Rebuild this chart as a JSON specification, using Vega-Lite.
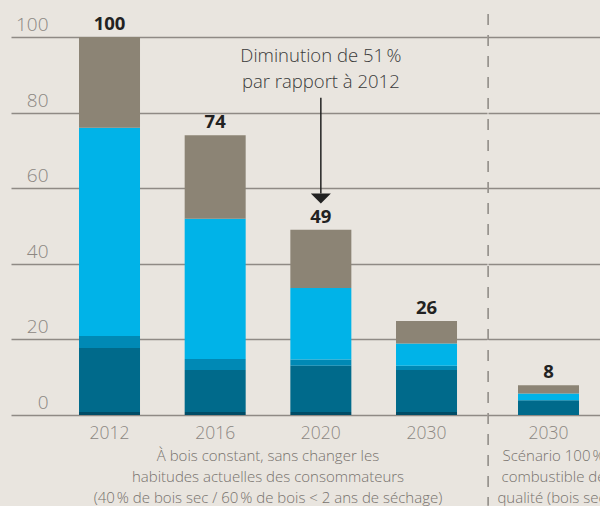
{
  "$schema": "https://vega.github.io/schema/vega-lite/v6.json",
  "background": "#e9e5df",
  "padding": {"left": 11, "top": 13, "right": 0, "bottom": 0},
  "spacing": 0,
  "datasets": {
    "emissions": [
      {"groupe": "A", "annee": "2012", "segment": "segment 1", "rang": 1, "valeur": 0.8, "total": 100},
      {"groupe": "A", "annee": "2012", "segment": "segment 2", "rang": 2, "valeur": 16.9, "total": 100},
      {"groupe": "A", "annee": "2012", "segment": "segment 3", "rang": 3, "valeur": 3.2, "total": 100},
      {"groupe": "A", "annee": "2012", "segment": "segment 4", "rang": 4, "valeur": 55.1, "total": 100},
      {"groupe": "A", "annee": "2012", "segment": "segment 5", "rang": 5, "valeur": 24.0, "total": 100},
      {"groupe": "A", "annee": "2016", "segment": "segment 1", "rang": 1, "valeur": 0.8, "total": 74},
      {"groupe": "A", "annee": "2016", "segment": "segment 2", "rang": 2, "valeur": 11.1, "total": 74},
      {"groupe": "A", "annee": "2016", "segment": "segment 3", "rang": 3, "valeur": 2.9, "total": 74},
      {"groupe": "A", "annee": "2016", "segment": "segment 4", "rang": 4, "valeur": 37.1, "total": 74},
      {"groupe": "A", "annee": "2016", "segment": "segment 5", "rang": 5, "valeur": 22.1, "total": 74},
      {"groupe": "A", "annee": "2020", "segment": "segment 1", "rang": 1, "valeur": 0.8, "total": 49},
      {"groupe": "A", "annee": "2020", "segment": "segment 2", "rang": 2, "valeur": 12.2, "total": 49},
      {"groupe": "A", "annee": "2020", "segment": "segment 3", "rang": 3, "valeur": 1.7, "total": 49},
      {"groupe": "A", "annee": "2020", "segment": "segment 4", "rang": 4, "valeur": 18.9, "total": 49},
      {"groupe": "A", "annee": "2020", "segment": "segment 5", "rang": 5, "valeur": 15.4, "total": 49},
      {"groupe": "A", "annee": "2030", "segment": "segment 1", "rang": 1, "valeur": 0.8, "total": 26},
      {"groupe": "A", "annee": "2030", "segment": "segment 2", "rang": 2, "valeur": 11.1, "total": 26},
      {"groupe": "A", "annee": "2030", "segment": "segment 3", "rang": 3, "valeur": 1.1, "total": 26},
      {"groupe": "A", "annee": "2030", "segment": "segment 4", "rang": 4, "valeur": 5.9, "total": 26},
      {"groupe": "A", "annee": "2030", "segment": "segment 5", "rang": 5, "valeur": 6.0, "total": 26},
      {"groupe": "B", "annee": "2030", "segment": "segment 2", "rang": 2, "valeur": 3.9, "total": 8},
      {"groupe": "B", "annee": "2030", "segment": "segment 4", "rang": 4, "valeur": 1.8, "total": 8},
      {"groupe": "B", "annee": "2030", "segment": "segment 5", "rang": 5, "valeur": 2.2, "total": 8}
    ]
  },
  "hconcat": [
    {
      "width": 476,
      "height": 378,
      "data": {"name": "emissions"},
      "transform": [{"filter": "datum.groupe === 'A'"}],
      "encoding": {
        "x": {
          "field": "annee",
          "type": "nominal",
          "sort": ["2012", "2016", "2020", "2030"],
          "scale": {"paddingInner": 0.4227, "paddingOuter": 0.4637, "align": 0.694},
          "axis": {
            "title": ["À bois constant, sans changer les", "habitudes actuelles des consommateurs", "(40\u202f% de bois sec / 60\u202f% de bois < 2 ans de séchage)"],
            "titleX": 256.5
          }
        }
      },
      "layer": [
        {
          "mark": {"type": "bar"},
          "encoding": {
            "y": {
              "field": "valeur",
              "type": "quantitative",
              "stack": "zero",
              "scale": {"domain": [0, 100], "nice": false},
              "axis": {
                "title": null,
                "values": [0, 20, 40, 60, 80, 100],
                "grid": true,
                "labels": true,
                "labelAlign": "right",
                "labelBaseline": "alphabetic",
                "labelPadding": -37,
                "labelOffset": -6.5,
                "labelFontSize": 19,
                "labelColor": "#8c8782",
                "labelFontWeight": 300,
                "labelFlush": false,
                "labelOverlap": false
              }
            },
            "color": {
              "field": "segment",
              "type": "nominal",
              "scale": {
                "domain": ["segment 1", "segment 2", "segment 3", "segment 4", "segment 5"],
                "range": ["#004c66", "#006a8b", "#0089b5", "#00b3e8", "#8c8475"]
              },
              "legend": null
            },
            "order": {"field": "rang", "type": "quantitative"}
          }
        },
        {
          "transform": [
            {"aggregate": [{"op": "sum", "field": "valeur", "as": "haut"}, {"op": "max", "field": "total", "as": "total"}], "groupby": ["annee"]}
          ],
          "mark": {"type": "text", "baseline": "alphabetic", "dy": -7, "fontSize": 18.5, "fontWeight": "bold", "color": "#222222"},
          "encoding": {
            "y": {"field": "haut", "type": "quantitative"},
            "text": {"field": "total", "type": "quantitative"}
          }
        },
        {
          "data": {"values": [{"annee": "2020", "texte": "Diminution de 51\u202f%\npar rapport à 2012"}]},
          "mark": {"type": "text", "baseline": "alphabetic", "lineBreak": "\n", "lineHeight": 26.6, "fontSize": 18.5, "fontWeight": 300, "color": "#3a3a3a"},
          "encoding": {
            "y": {"datum": 93.5, "type": "quantitative"},
            "text": {"field": "texte"}
          }
        },
        {
          "data": {"values": [{"annee": "2020"}]},
          "mark": {"type": "rule", "color": "#222222", "strokeWidth": 1.5},
          "encoding": {
            "y": {"datum": 83.9, "type": "quantitative"},
            "y2": {"datum": 58.6}
          }
        },
        {
          "data": {"values": [{"annee": "2020"}]},
          "mark": {"type": "point", "shape": "M-1,-0.5L1,-0.5L0,0.5Z", "filled": true, "size": 400, "color": "#222222", "opacity": 1},
          "encoding": {
            "y": {"datum": 57.3, "type": "quantitative"}
          }
        }
      ]
    },
    {
      "width": 113,
      "height": 378,
      "data": {"name": "emissions"},
      "transform": [{"filter": "datum.groupe === 'B'"}],
      "encoding": {
        "x": {
          "field": "annee",
          "type": "nominal",
          "scale": {"paddingInner": 0, "paddingOuter": 0.4262, "align": 0.577},
          "axis": {
            "title": ["Scénario 100\u202f%", "combustible de", "qualité (bois sec)"],
            "titleX": 65
          }
        }
      },
      "layer": [
        {
          "mark": {"type": "bar"},
          "encoding": {
            "y": {
              "field": "valeur",
              "type": "quantitative",
              "stack": "zero",
              "scale": {"domain": [0, 100], "nice": false},
              "axis": {"title": null, "values": [0, 20, 40, 60, 80, 100], "grid": true, "labels": false}
            },
            "color": {
              "field": "segment",
              "type": "nominal",
              "scale": {
                "domain": ["segment 1", "segment 2", "segment 3", "segment 4", "segment 5"],
                "range": ["#004c66", "#006a8b", "#0089b5", "#00b3e8", "#8c8475"]
              },
              "legend": null
            },
            "order": {"field": "rang", "type": "quantitative"}
          }
        },
        {
          "transform": [
            {"aggregate": [{"op": "sum", "field": "valeur", "as": "haut"}, {"op": "max", "field": "total", "as": "total"}], "groupby": ["annee"]}
          ],
          "mark": {"type": "text", "baseline": "alphabetic", "dy": -7, "fontSize": 18.5, "fontWeight": "bold", "color": "#222222"},
          "encoding": {
            "y": {"field": "haut", "type": "quantitative"},
            "text": {"field": "total", "type": "quantitative"}
          }
        },
        {
          "data": {"values": [{"annee": "2030"}]},
          "mark": {"type": "rule", "color": "#8c8782", "strokeWidth": 1.5, "strokeDash": [11, 10]},
          "encoding": {
            "x": {"field": "annee", "type": "nominal", "bandPosition": -0.49},
            "y": {"datum": 106.1, "type": "quantitative"},
            "y2": {"datum": -24}
          }
        }
      ]
    }
  ],
  "resolve": {"scale": {"y": "shared", "x": "independent", "color": "shared"}},
  "config": {
    "font": "Open Sans",
    "view": {"stroke": null},
    "axis": {
      "domain": false,
      "ticks": false,
      "gridColor": "#8f8a85",
      "gridWidth": 1.5,
      "gridOpacity": 1
    },
    "axisX": {
      "labelFontSize": 17.5,
      "labelColor": "#8c8782",
      "labelFontWeight": 300,
      "labelPadding": 9,
      "labelAngle": 0,
      "titleFontSize": 15,
      "titleFontWeight": 300,
      "titleColor": "#77726d",
      "titleLineHeight": 21,
      "titlePadding": 7,
      "titleAlign": "center"
    }
  }
}
